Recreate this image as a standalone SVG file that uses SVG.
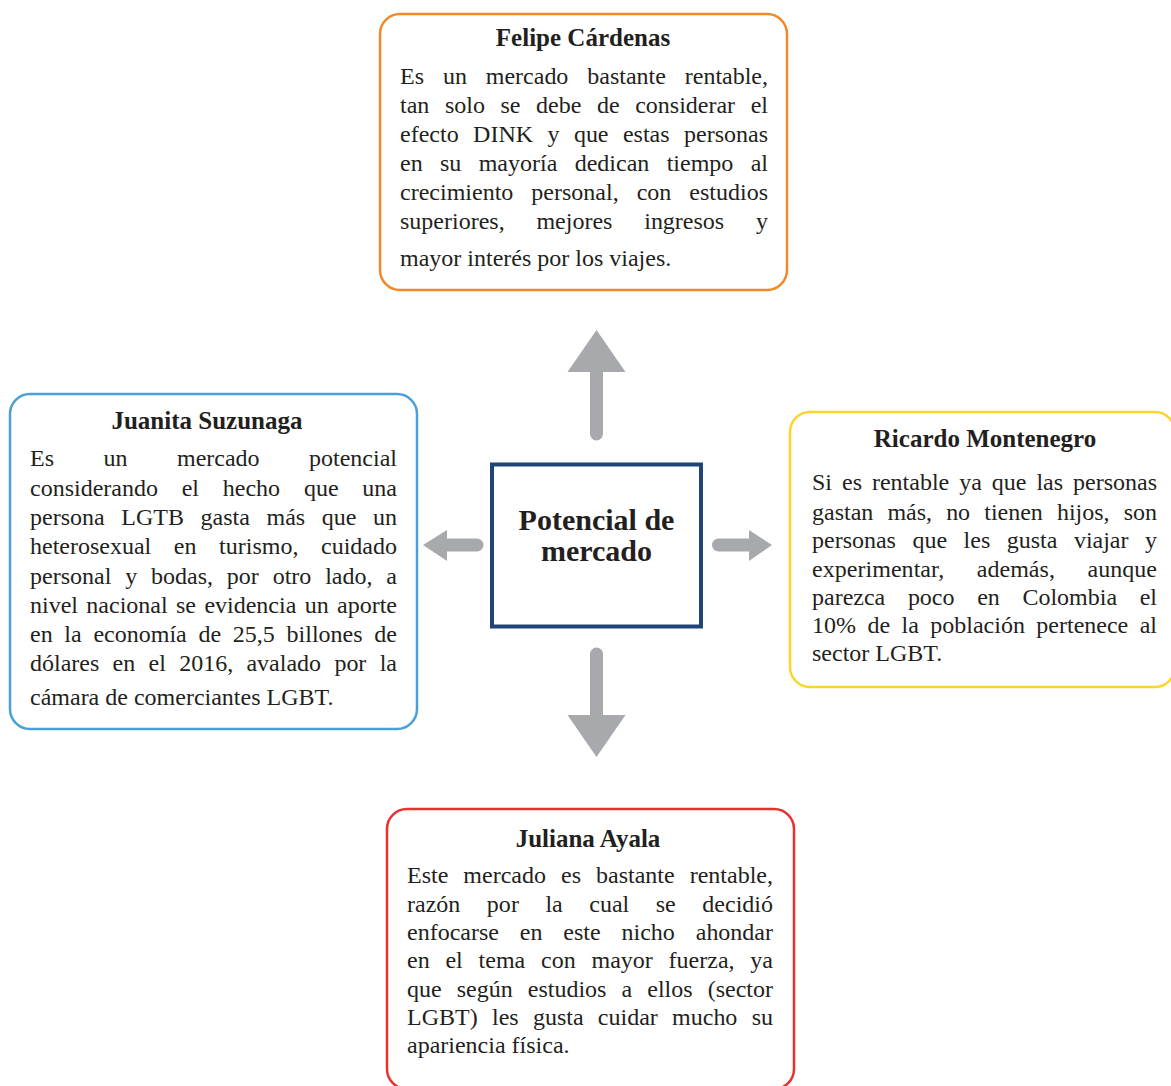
<svg xmlns="http://www.w3.org/2000/svg" width="1171" height="1086" viewBox="0 0 1171 1086">
<style>
  .box{fill:#fff;stroke-width:2.5}
  .t{font-family:"Liberation Serif","Times New Roman",serif;font-size:25px;font-weight:bold;fill:#231F20;text-anchor:middle}
  .b{font-family:"Liberation Serif","Times New Roman",serif;font-size:24px;fill:#231F20}
  .c{font-family:"Liberation Serif","Times New Roman",serif;font-size:30px;font-weight:bold;fill:#231F20;text-anchor:middle}
  .sh{stroke:#A7A9AC;stroke-width:13;stroke-linecap:round;fill:none}
  .hd{fill:#A7A9AC}
</style>
<rect width="1171" height="1086" fill="#fff"/>
<g id="connectors">
  <line class="sh" x1="596.5" y1="434" x2="596.5" y2="370"/>
  <polygon class="hd" points="596.5,330 625.5,372 567.5,372"/>
  <line class="sh" x1="596.5" y1="654" x2="596.5" y2="717"/>
  <polygon class="hd" points="596.5,757 625.5,715 567.5,715"/>
  <line class="sh" x1="477" y1="545" x2="445" y2="545"/>
  <polygon class="hd" points="423,545 447,530 447,561"/>
  <line class="sh" x1="718.5" y1="545" x2="751" y2="545"/>
  <polygon class="hd" points="772,545 749,530 749,561"/>
</g>
<g id="center">
  <rect x="492" y="464.5" width="209" height="162" fill="#fff" stroke="#1F4578" stroke-width="4"/>
  <text class="c" x="596.5" y="530">Potencial de</text>
  <text class="c" x="596.5" y="561">mercado</text>
</g>
<g id="felipe">
  <rect class="box" x="380" y="14" width="407" height="276" rx="20" stroke="#F0892A"/>
  <text class="t" x="583" y="46">Felipe Cárdenas</text>
  <text class="b" x="400" y="84" word-spacing="12.9" textLength="368" lengthAdjust="spacing">Es un mercado bastante rentable,</text>
  <text class="b" x="400" y="113" word-spacing="9.6" textLength="368" lengthAdjust="spacing">tan solo se debe de considerar el</text>
  <text class="b" x="400" y="142" word-spacing="8.4" textLength="368" lengthAdjust="spacing">efecto DINK y que estas personas</text>
  <text class="b" x="400" y="171" word-spacing="11.3" textLength="368" lengthAdjust="spacing">en su mayoría dedican tiempo al</text>
  <text class="b" x="400" y="200" word-spacing="12" textLength="368" lengthAdjust="spacing">crecimiento personal, con estudios</text>
  <text class="b" x="400" y="229" word-spacing="25.8" textLength="368" lengthAdjust="spacing">superiores, mejores ingresos y</text>
  <text class="b" x="400" y="266">mayor interés por los viajes.</text>
</g>
<g id="juanita">
  <rect class="box" x="10" y="394" width="407" height="335" rx="20" stroke="#4A9FD8"/>
  <text class="t" x="207" y="429">Juanita Suzunaga</text>
  <text class="b" x="30" y="466" word-spacing="43.5" textLength="367" lengthAdjust="spacing">Es un mercado potencial</text>
  <text class="b" x="30" y="496" word-spacing="17.8" textLength="367" lengthAdjust="spacing">considerando el hecho que una</text>
  <text class="b" x="30" y="525" word-spacing="10.6" textLength="367" lengthAdjust="spacing">persona LGTB gasta más que un</text>
  <text class="b" x="30" y="554" word-spacing="16.6" textLength="367" lengthAdjust="spacing">heterosexual en turismo, cuidado</text>
  <text class="b" x="30" y="584" word-spacing="7.8" textLength="367" lengthAdjust="spacing">personal y bodas, por otro lado, a</text>
  <text class="b" x="30" y="613" word-spacing="2.4" textLength="367" lengthAdjust="spacing">nivel nacional se evidencia un aporte</text>
  <text class="b" x="30" y="642" word-spacing="5.7" textLength="367" lengthAdjust="spacing">en la economía de 25,5 billones de</text>
  <text class="b" x="30" y="671" word-spacing="7.3" textLength="367" lengthAdjust="spacing">dólares en el 2016, avalado por la</text>
  <text class="b" x="30" y="705">cámara de comerciantes LGBT.</text>
</g>
<g id="ricardo">
  <rect class="box" x="790" y="412" width="385" height="275" rx="20" stroke="#FCD52B"/>
  <text class="t" x="985" y="447">Ricardo Montenegro</text>
  <text class="b" x="812" y="490" word-spacing="4" textLength="345" lengthAdjust="spacing">Si es rentable ya que las personas</text>
  <text class="b" x="812" y="520" word-spacing="8.1" textLength="345" lengthAdjust="spacing">gastan más, no tienen hijos, son</text>
  <text class="b" x="812" y="548" word-spacing="10.5" textLength="345" lengthAdjust="spacing">personas que les gusta viajar y</text>
  <text class="b" x="812" y="577" word-spacing="26.5" textLength="345" lengthAdjust="spacing">experimentar, además, aunque</text>
  <text class="b" x="812" y="605" word-spacing="16.6" textLength="345" lengthAdjust="spacing">parezca poco en Colombia el</text>
  <text class="b" x="812" y="633" word-spacing="5.4" textLength="345" lengthAdjust="spacing">10% de la población pertenece al</text>
  <text class="b" x="812" y="661">sector LGBT.</text>
</g>
<g id="juliana">
  <rect class="box" x="387" y="809" width="407" height="280" rx="20" stroke="#E8312F"/>
  <text class="t" x="588" y="847">Juliana Ayala</text>
  <text class="b" x="407" y="883" word-spacing="9" textLength="366" lengthAdjust="spacing">Este mercado es bastante rentable,</text>
  <text class="b" x="407" y="912" word-spacing="20.5" textLength="366" lengthAdjust="spacing">razón por la cual se decidió</text>
  <text class="b" x="407" y="940" word-spacing="14.9" textLength="366" lengthAdjust="spacing">enfocarse en este nicho ahondar</text>
  <text class="b" x="407" y="968" word-spacing="9.8" textLength="366" lengthAdjust="spacing">en el tema con mayor fuerza, ya</text>
  <text class="b" x="407" y="997" word-spacing="9.1" textLength="366" lengthAdjust="spacing">que según estudios a ellos (sector</text>
  <text class="b" x="407" y="1025" word-spacing="8.3" textLength="366" lengthAdjust="spacing">LGBT) les gusta cuidar mucho su</text>
  <text class="b" x="407" y="1053">apariencia física.</text>
</g>
</svg>
